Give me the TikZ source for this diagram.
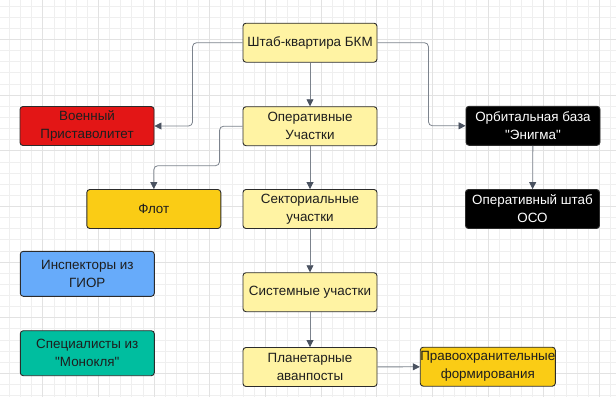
\documentclass[tikz,border=0pt]{standalone}
\usepackage{fontspec}
\setmainfont{Liberation Sans}[Ligatures=TeXOff]
\usetikzlibrary{arrows.meta}
\definecolor{yel}{HTML}{FFF3A3}
\definecolor{redb}{HTML}{E31616}
\definecolor{gold}{HTML}{FACC15}
\definecolor{blueb}{HTML}{67ABFA}
\definecolor{teal}{HTML}{00BE9F}
\definecolor{edge}{HTML}{2B2B2B}
\definecolor{txt}{HTML}{1E1E1E}
\definecolor{linec}{HTML}{7C838D}
\definecolor{headc}{HTML}{4A5260}
\definecolor{gridminor}{HTML}{EFEFEF}
\definecolor{gridmajor}{HTML}{E2E2E2}
\tikzset{
  boxn/.style={rectangle, rounded corners=3pt, draw=edge, line width=0.9pt,
    minimum width=134pt, minimum height=39pt, inner sep=0pt, align=center,
    text=txt, font=\fontsize{13.4}{18}\selectfont},
  conn/.style={draw=linec, line width=0.8pt, rounded corners=4pt,
    -{Triangle[length=7pt,width=7pt,color=headc]}},
}
\begin{document}
\begin{tikzpicture}[x=1pt,y=-1pt]
\useasboundingbox (0,0) rectangle (616,397);
\fill[white] (0,0) rectangle (616,397);
\foreach \i in {0,...,55} {
  \pgfmathsetmacro\xx{9.3+11.13*\i}
  \draw[gridminor, line width=0.6pt] (\xx,0) -- (\xx,397);
}
\foreach \i in {0,...,35} {
  \pgfmathsetmacro\yy{6+11.13*\i}
  \draw[gridminor, line width=0.6pt] (0,\yy) -- (616,\yy);
}
\foreach \i in {0,...,10} {
  \pgfmathsetmacro\xx{42.7+55.65*\i}
  \draw[gridmajor, line width=0.7pt] (\xx,0) -- (\xx,397);
}
\foreach \i in {0,...,6} {
  \pgfmathsetmacro\yy{39.3+55.65*\i}
  \draw[gridmajor, line width=0.7pt] (0,\yy) -- (616,\yy);
}

\node[boxn, fill=yel] (hq) at (310,42.7) {Штаб-квартира БКМ};
\node[boxn, fill=yel] (op) at (310,126.2) {Оперативные\\Участки};
\node[boxn, fill=redb] (mil) at (87,126) {Военный\\Приставолитет};
\node[boxn, fill=black, text=white] (orb) at (533,125.8) {Орбитальная база\\"Энигма"};
\node[boxn, fill=black, text=white] (oso) at (532.5,209) {Оперативный штаб\\ОСО};
\node[boxn, fill=gold] (flot) at (153.8,209) {Флот};
\node[boxn, fill=yel] (sect) at (310,209) {Секториальные\\участки};
\node[boxn, fill=blueb, minimum height=45pt] (insp) at (87.3,273.8) {Инспекторы из\\ГИОР};
\node[boxn, fill=teal, minimum height=45pt] (spec) at (87.3,353.2) {Специалисты из\\"Монокля"};
\node[boxn, fill=yel] (sys) at (310,292.2) {Системные участки};
\node[boxn, fill=yel] (plan) at (310,367) {Планетарные\\аванпосты};
\node[boxn, fill=gold] (pravo) at (487.8,366.7) {Правоохранительные\\формирования};

\draw[conn] (hq) -- (op);
\draw[conn] (hq.west) -- ++(-50,0) |- (mil.east);
\draw[conn] (hq.east) -- ++(51,0) |- (orb.west);
\draw[conn] (op.west) -- ++(-23,0) -- ++(0,39.5) -| (flot.north);
\draw[conn] (op) -- (sect);
\draw[conn] (sect) -- (sys);
\draw[conn] (sys) -- (plan);
\draw[conn] (plan) -- (pravo);
\draw[conn] (orb) -- (oso);
\end{tikzpicture}
\end{document}
